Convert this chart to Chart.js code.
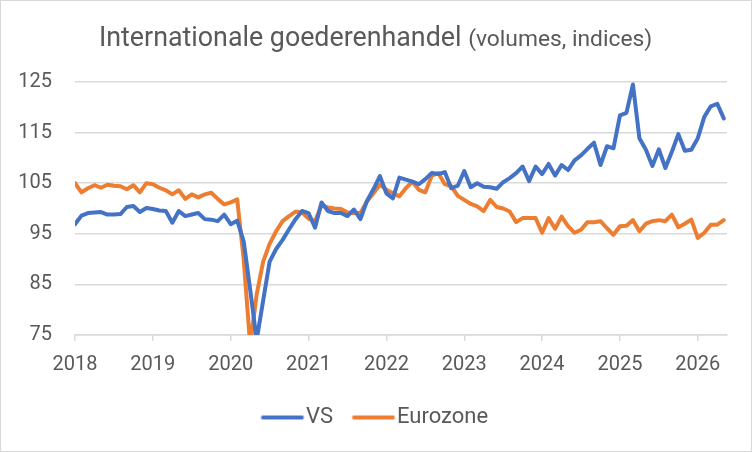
<!DOCTYPE html>
<html>
<head>
<meta charset="utf-8">
<script src="https://cdn.jsdelivr.net/npm/chart.js@4.4.1/dist/chart.umd.min.js"></script>
<style>
  html, body { margin: 0; padding: 0; background: #fff; }
  #wrap { width: 750px; height: 450px; border: 1px solid #d9d9d9; }
</style>
</head>
<body>
<div id="wrap"><canvas id="trade" width="750" height="450"></canvas></div>
<script>
Chart.defaults.font.family = 'Roboto';
Chart.defaults.color = '#595959';

const titleMain = 'Internationale goederenhandel';
const titleSub = '(volumes, indices)';

const firstYear = 2018;
const yearTicks = [2018, 2019, 2020, 2021, 2022, 2023, 2024, 2025, 2026];

// monthly index values, jan 2018 - may 2026
const vs = [
  96.9, 98.6, 99.1, 99.2, 99.3, 98.8, 98.8, 98.9, 100.3, 100.5, 99.3, 100.1,
  99.9, 99.6, 99.5, 97.2, 99.5, 98.5, 98.8, 99.1, 97.9, 97.8, 97.5, 98.8,
  96.9, 97.6, 93.5, 84.0, 74.0, 81.8, 89.5, 92.0, 93.8, 95.9, 97.9, 99.5,
  99.1, 96.2, 101.2, 99.5, 99.1, 99.1, 98.5, 99.8, 97.9, 101.5, 103.8, 106.4,
  103.0, 102.0, 106.1, 105.7, 105.3, 104.8, 105.8, 107.0, 106.8, 107.2, 104.0, 104.5,
  107.4, 104.2, 105.0, 104.3, 104.2, 103.9, 105.2, 106.0, 107.0, 108.3, 105.4, 108.3,
  106.8, 108.8, 106.5, 108.6, 107.6, 109.5, 110.5, 111.8, 113.0, 108.6, 112.3, 111.9,
  118.4, 118.9, 124.5, 113.9, 111.6, 108.4, 111.7, 108.0, 111.2, 114.7, 111.4, 111.6,
  113.9, 118.1, 120.2, 120.7, 117.8
];

const eurozone = [
  105.0, 103.2, 104.0, 104.6, 104.1, 104.7, 104.5, 104.4, 103.8, 104.6, 103.2, 105.0,
  104.8, 104.1, 103.6, 102.8, 103.6, 101.9, 102.8, 102.2, 102.8, 103.1, 101.9, 100.8,
  101.2, 101.8, 90.0, 73.0, 83.0, 89.5, 93.0, 95.5, 97.5, 98.5, 99.4, 99.2,
  98.0, 97.5, 100.6, 100.2, 100.0, 99.9, 99.2, 99.1, 99.1, 101.4, 103.0, 104.7,
  103.7, 103.0, 102.4, 104.0, 105.3, 103.7, 103.2, 106.5, 107.0, 104.8, 104.4, 102.5,
  101.7, 100.9, 100.4, 99.5, 101.7, 100.3, 100.0, 99.4, 97.3, 98.1, 98.1, 98.1,
  95.2, 98.1, 96.0, 98.4, 96.5, 95.2, 95.8, 97.3, 97.3, 97.5, 96.1, 94.8,
  96.5, 96.6, 97.7, 95.5, 97.0, 97.5, 97.7, 97.5, 98.8, 96.3, 97.0, 97.8,
  94.2, 95.2, 96.8, 96.8, 97.7
];

function toPoints(values) {
  return values.map((v, i) => ({ x: i, y: v }));
}

// legend line sample: drawn off-centre so it ends right before the text
function lineMarker(color) {
  const c = document.createElement('canvas');
  c.width = 61;
  c.height = 6;
  const g = c.getContext('2d');
  g.strokeStyle = color;
  g.lineWidth = 4;
  g.lineCap = 'round';
  g.beginPath();
  g.moveTo(18.5, 3);
  g.lineTo(57.5, 3);
  g.stroke();
  return c;
}

// title has two font sizes, chart.js title can't do that
const mixedTitle = {
  id: 'mixedTitle',
  afterDraw(chart) {
    const ctx = chart.ctx;
    ctx.save();
    ctx.fillStyle = '#595959';
    ctx.textBaseline = 'alphabetic';
    ctx.font = '26.8px Roboto';
    ctx.fillText(titleMain, 98, 45);
    const w = ctx.measureText(titleMain + ' ').width;
    ctx.font = '22.8px Roboto';
    ctx.fillText(titleSub, 98 + w, 45);
    ctx.restore();
  }
};

const ctx = document.getElementById('trade');

const chart_trade = new Chart(ctx, {
  type: 'line',
  data: {
    datasets: [{
      label: 'VS',
      data: toPoints(vs),
      borderColor: '#4472C4',
      backgroundColor: '#4472C4',
      borderWidth: 4,
      pointRadius: 0,
      pointStyle: lineMarker('#4472C4'),
      borderJoinStyle: 'round',
      borderCapStyle: 'round',
      clip: 0
    }, {
      label: 'Eurozone',
      data: toPoints(eurozone),
      borderColor: '#ED7D31',
      backgroundColor: '#ED7D31',
      borderWidth: 4,
      pointRadius: 0,
      pointStyle: lineMarker('#ED7D31'),
      borderJoinStyle: 'round',
      borderCapStyle: 'round',
      clip: 0
    }]
  },
  options: {
    responsive: false,
    animation: false,
    layout: {
      padding: { top: 81, left: 15, right: 24, bottom: 12.5 }
    },
    scales: {
      x: {
        type: 'linear',
        min: 0,
        max: 100.5,
        afterBuildTicks: (scale) => {
          scale.ticks = yearTicks.map((y) => ({ value: (y - firstYear) * 12 }));
        },
        afterFit: (scale) => { scale.height = 58.5; },
        ticks: {
          color: '#595959',
          font: { size: 20 },
          padding: 12,
          maxRotation: 0,
          autoSkip: false,
          callback: (v) => firstYear + v / 12
        },
        grid: {
          drawOnChartArea: false,
          color: '#d9d9d9',
          lineWidth: 1.5,
          tickLength: 6
        },
        border: { color: '#d9d9d9', width: 1.5 }
      },
      y: {
        min: 75,
        max: 125,
        afterFit: (scale) => { scale.width = 59; },
        ticks: {
          stepSize: 10,
          color: '#595959',
          font: { size: 20 },
          padding: 23
        },
        grid: {
          color: '#d9d9d9',
          lineWidth: 1.5,
          drawTicks: false
        },
        border: { display: false }
      }
    },
    plugins: {
      title: { display: false },
      tooltip: { enabled: false },
      legend: {
        position: 'bottom',
        labels: {
          usePointStyle: true,
          pointStyleWidth: 40,
          color: '#595959',
          font: { size: 22 },
          padding: 13
        }
      }
    }
  },
  plugins: [mixedTitle]
});
</script>
</body>
</html>
